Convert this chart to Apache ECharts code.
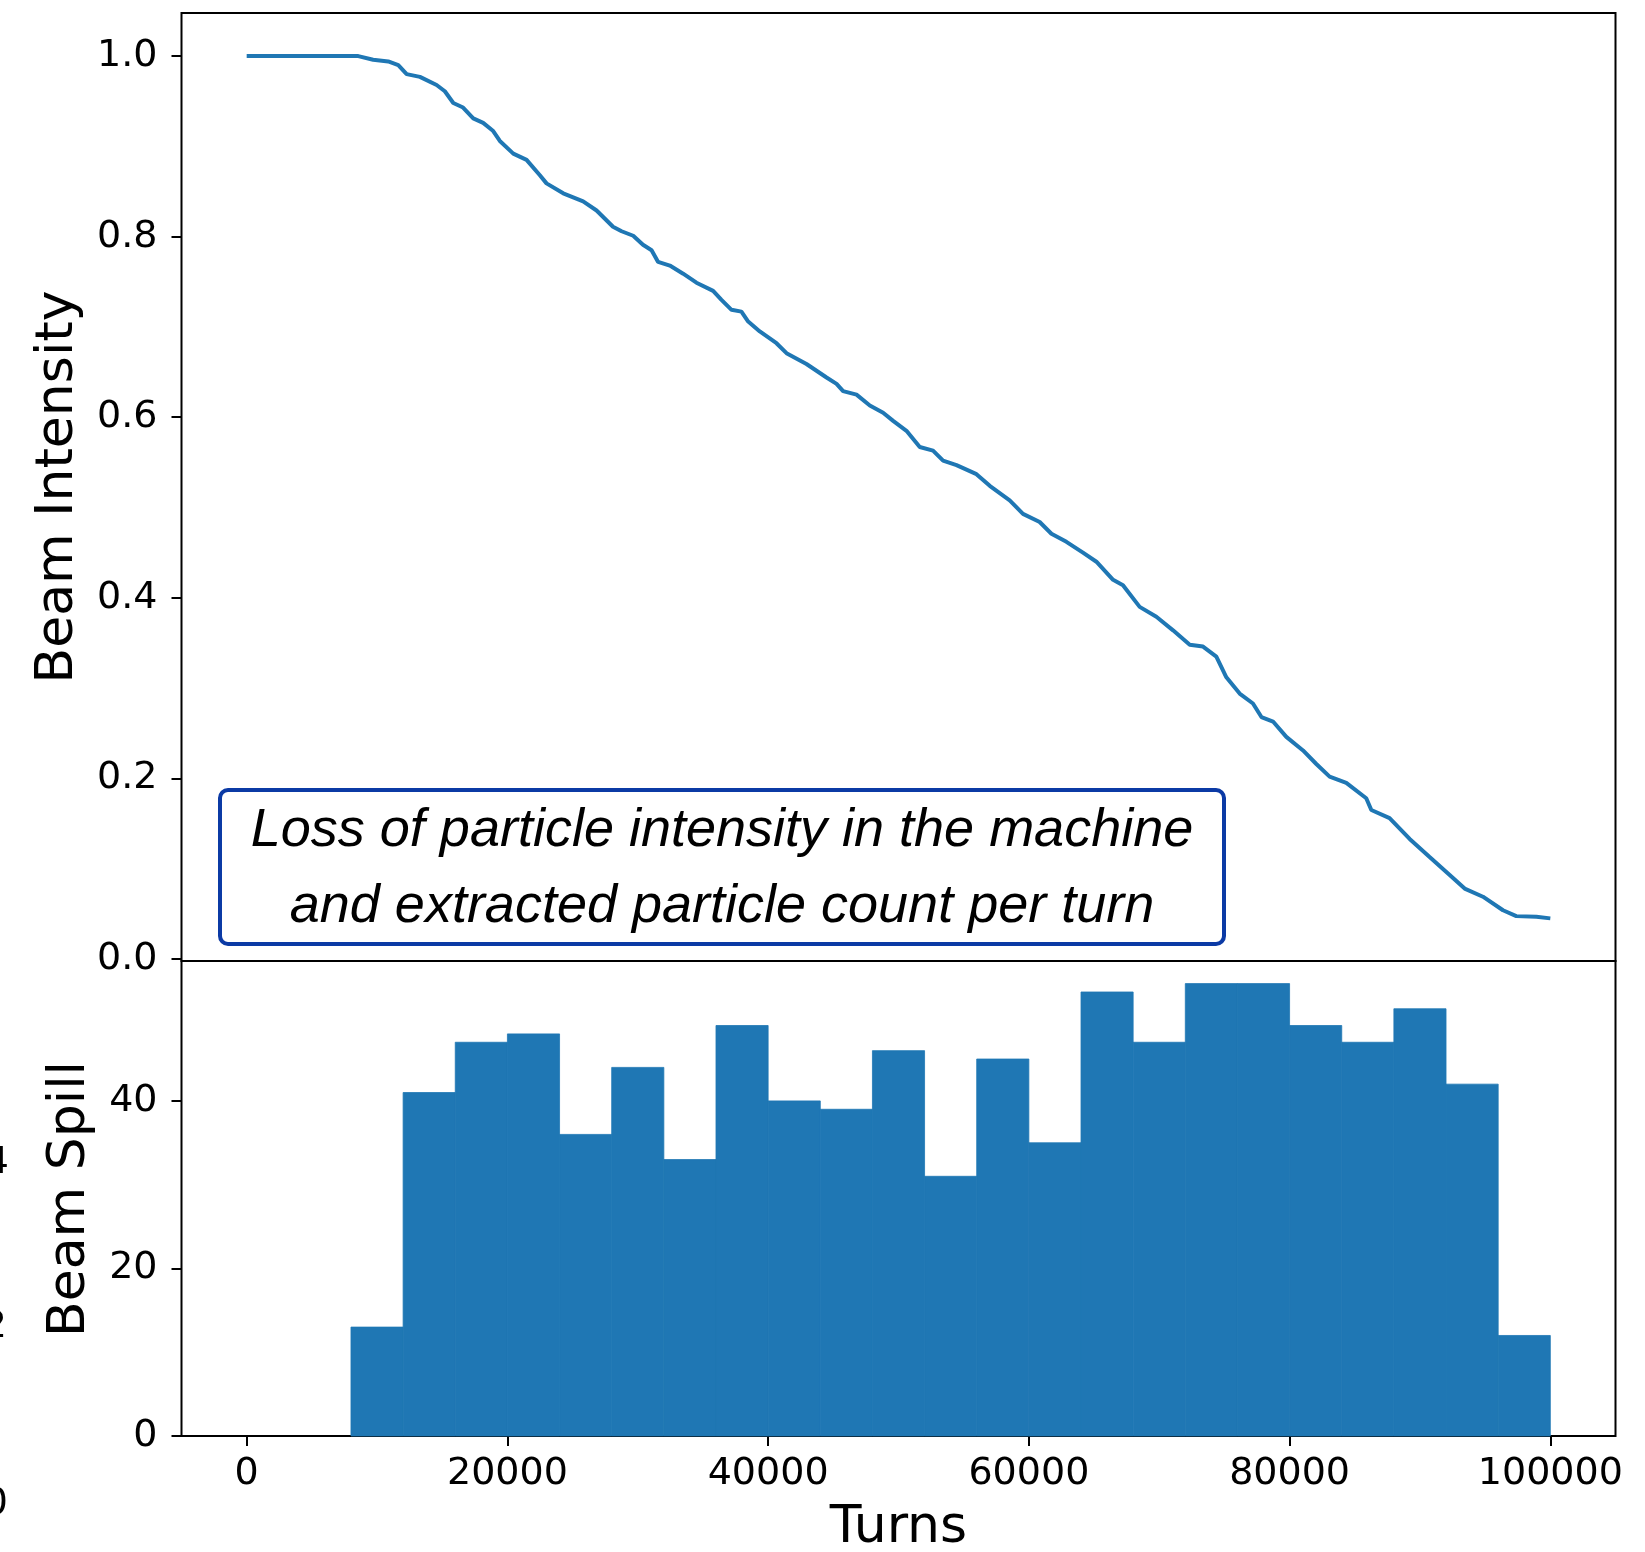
<!DOCTYPE html>
<html>
<head>
<meta charset="utf-8">
<script src="https://cdn.jsdelivr.net/npm/echarts@6/dist/echarts.min.js"></script>
<style>
  html, body { margin: 0; padding: 0; background: #fff; }
  #chart { width: 1645px; height: 1552px; }
</style>
</head>
<body>
<div id="chart"></div>
<script>
// Beam intensity (normalised) vs. turn number
const turns = [
  0, 8560, 9700, 10860, 11630, 12270, 13290, 14570, 15200, 15850, 16600, 17380,
  18140, 18910, 19420, 20450, 21470, 22490, 23000, 24280, 25810, 26840, 28100,
  28760, 29650, 30400, 31060, 31560, 32460, 33480, 34500, 35780, 36420, 37190,
  37950, 38470, 39360, 40640, 41410, 42940, 44480, 45250, 45750, 46780, 47800,
  48820, 49590, 50610, 51630, 52650, 53420, 54450, 55980, 57000, 58530, 59550,
  60830, 61730, 62880, 64150, 65180, 66460, 67220, 68500, 69780, 71060, 72340,
  73360, 74380, 75150, 76170, 77190, 77840, 78730, 79750, 81030, 82050, 83070,
  84350, 85880, 86270, 87670, 89210, 90740, 92280, 93430, 94830, 96370, 97390,
  98930, 100000
];
const intensity = [
  1.000, 1.000, 0.996, 0.994, 0.990, 0.980, 0.977, 0.968, 0.961, 0.948, 0.943, 0.931,
  0.926, 0.917, 0.906, 0.892, 0.885, 0.868, 0.859, 0.848, 0.839, 0.829, 0.811,
  0.806, 0.801, 0.791, 0.785, 0.772, 0.768, 0.759, 0.749, 0.740, 0.730, 0.719,
  0.717, 0.706, 0.695, 0.682, 0.671, 0.659, 0.644, 0.637, 0.629, 0.625, 0.613,
  0.605, 0.596, 0.585, 0.567, 0.563, 0.552, 0.547, 0.537, 0.524, 0.508, 0.493,
  0.484, 0.471, 0.462, 0.450, 0.440, 0.420, 0.414, 0.390, 0.379, 0.364, 0.348,
  0.346, 0.335, 0.312, 0.294, 0.283, 0.268, 0.263, 0.246, 0.231, 0.216, 0.202,
  0.195, 0.178, 0.165, 0.156, 0.133, 0.113, 0.093, 0.078, 0.069, 0.054, 0.0475,
  0.0467, 0.045
];

// Extracted particles per 4000-turn bin
const spillBinStart = [
  0, 4000, 8000, 12000, 16000, 20000, 24000, 28000, 32000, 36000, 40000, 44000,
  48000, 52000, 56000, 60000, 64000, 68000, 72000, 76000, 80000, 84000, 88000,
  92000, 96000
];
const spillBinWidth = 4000;
const spillCounts = [
  0, 0, 13, 41, 47, 48, 36, 44, 33, 49, 40, 39, 46, 31, 45, 35, 53, 47, 54, 54,
  49, 47, 51, 42, 12
];

// Tick positions
const turnTicks = [0, 20000, 40000, 60000, 80000, 100000];
const intensityTicks = [0.0, 0.2, 0.4, 0.6, 0.8, 1.0];
const spillTicks = [0, 20, 40];

const BLUE = '#1f77b4';
const TICK_FONT = 'DejaVu Sans';

const chart = echarts.init(document.getElementById('chart'), null, { renderer: 'canvas' });

const plotLeft = 181.5, plotWidth = 1434;
const tickStyle = { length: 10, lineStyle: { color: '#000', width: 2 } };
const labelStyle = { color: '#000', fontSize: 38, fontFamily: TICK_FONT };
const hiddenLine = { show: false, onZero: false };

chart.setOption({
  animation: false,
  backgroundColor: '#fff',
  grid: [
    { left: plotLeft, top: 13, width: plotWidth, height: 948, show: true,
      borderColor: '#000', borderWidth: 2, backgroundColor: 'transparent' },
    { left: plotLeft, top: 961, width: plotWidth, height: 475, show: true,
      borderColor: '#000', borderWidth: 2, backgroundColor: 'transparent' }
  ],
  xAxis: [
    { type: 'value', gridIndex: 0, min: -5000, max: 105000,
      axisLine: hiddenLine, axisTick: { show: false },
      axisLabel: { show: false }, splitLine: { show: false } },
    { type: 'value', gridIndex: 1, min: -5000, max: 105000,
      axisLine: hiddenLine, splitLine: { show: false },
      axisTick: Object.assign({ show: true, customValues: turnTicks }, tickStyle),
      axisLabel: Object.assign({ show: true, customValues: turnTicks, margin: 19,
        formatter: v => String(Math.round(v)) }, labelStyle) }
  ],
  yAxis: [
    { type: 'value', gridIndex: 0, min: -0.0022, max: 1.0477,
      axisLine: hiddenLine, splitLine: { show: false },
      axisTick: Object.assign({ show: true, customValues: intensityTicks }, tickStyle),
      axisLabel: Object.assign({ show: true, customValues: intensityTicks, margin: 24,
        formatter: v => Number(v).toFixed(1) }, labelStyle) },
    { type: 'value', gridIndex: 1, min: 0, max: 56.7,
      axisLine: hiddenLine, splitLine: { show: false },
      axisTick: Object.assign({ show: true, customValues: spillTicks }, tickStyle),
      axisLabel: Object.assign({ show: true, customValues: spillTicks, margin: 24,
        formatter: v => String(Math.round(v)) }, labelStyle) }
  ],
  series: [
    {
      name: 'Beam Intensity',
      type: 'line',
      xAxisIndex: 0, yAxisIndex: 0,
      showSymbol: false,
      lineStyle: { color: BLUE, width: 4 },
      data: turns.map((t, i) => [t, intensity[i]])
    },
    {
      name: 'Beam Spill',
      type: 'custom',
      xAxisIndex: 1, yAxisIndex: 1,
      data: spillBinStart.map((s, i) => [s, s + spillBinWidth, spillCounts[i]]),
      encode: { x: [0, 1], y: 2 },
      renderItem: function (params, api) {
        const count = api.value(2);
        if (!count) return null;
        const topLeft = api.coord([api.value(0), count]);
        const bottomRight = api.coord([api.value(1), 0]);
        return {
          type: 'rect',
          shape: {
            x: topLeft[0], y: topLeft[1],
            width: bottomRight[0] - topLeft[0],
            height: bottomRight[1] - topLeft[1]
          },
          style: { fill: BLUE, stroke: BLUE, lineWidth: 0.8 }
        };
      }
    }
  ],
  graphic: [
    // axis titles
    { type: 'text', x: 58, y: 487, rotation: Math.PI / 2,
      style: { text: 'Beam Intensity', fill: '#000', font: '52px "DejaVu Sans"',
        align: 'center', verticalAlign: 'middle' } },
    { type: 'text', x: 70, y: 1199, rotation: Math.PI / 2,
      style: { text: 'Beam Spill', fill: '#000', font: '52px "DejaVu Sans"',
        align: 'center', verticalAlign: 'middle' } },
    { type: 'text', x: 898.5, y: 1528,
      style: { text: 'Turns', fill: '#000', font: '52px "DejaVu Sans"',
        align: 'center', verticalAlign: 'middle' } },
    // tick labels of the neighbouring panel, clipped by the page edge
    { type: 'text', x: 9, y: 1163,
      style: { text: '4', fill: '#000', font: '38px "DejaVu Sans"', align: 'right', verticalAlign: 'middle' } },
    { type: 'text', x: 7, y: 1327,
      style: { text: '2', fill: '#000', font: '38px "DejaVu Sans"', align: 'right', verticalAlign: 'middle' } },
    { type: 'text', x: 8, y: 1504,
      style: { text: '0', fill: '#000', font: '38px "DejaVu Sans"', align: 'right', verticalAlign: 'middle' } },
    // annotation box
    { type: 'group', z: 100, children: [
      { type: 'rect', shape: { x: 220, y: 790, width: 1004, height: 154, r: 8 },
        style: { fill: '#fff', stroke: '#0b3aa5', lineWidth: 4 } },
      { type: 'text', x: 722, y: 831,
        style: { text: 'Loss of particle intensity in the machine', fill: '#000',
          font: 'italic 54px "Liberation Sans"', align: 'center', verticalAlign: 'middle' } },
      { type: 'text', x: 722, y: 907,
        style: { text: 'and extracted particle count per turn', fill: '#000',
          font: 'italic 54px "Liberation Sans"', align: 'center', verticalAlign: 'middle' } }
    ] }
  ]
});
</script>
</body>
</html>
